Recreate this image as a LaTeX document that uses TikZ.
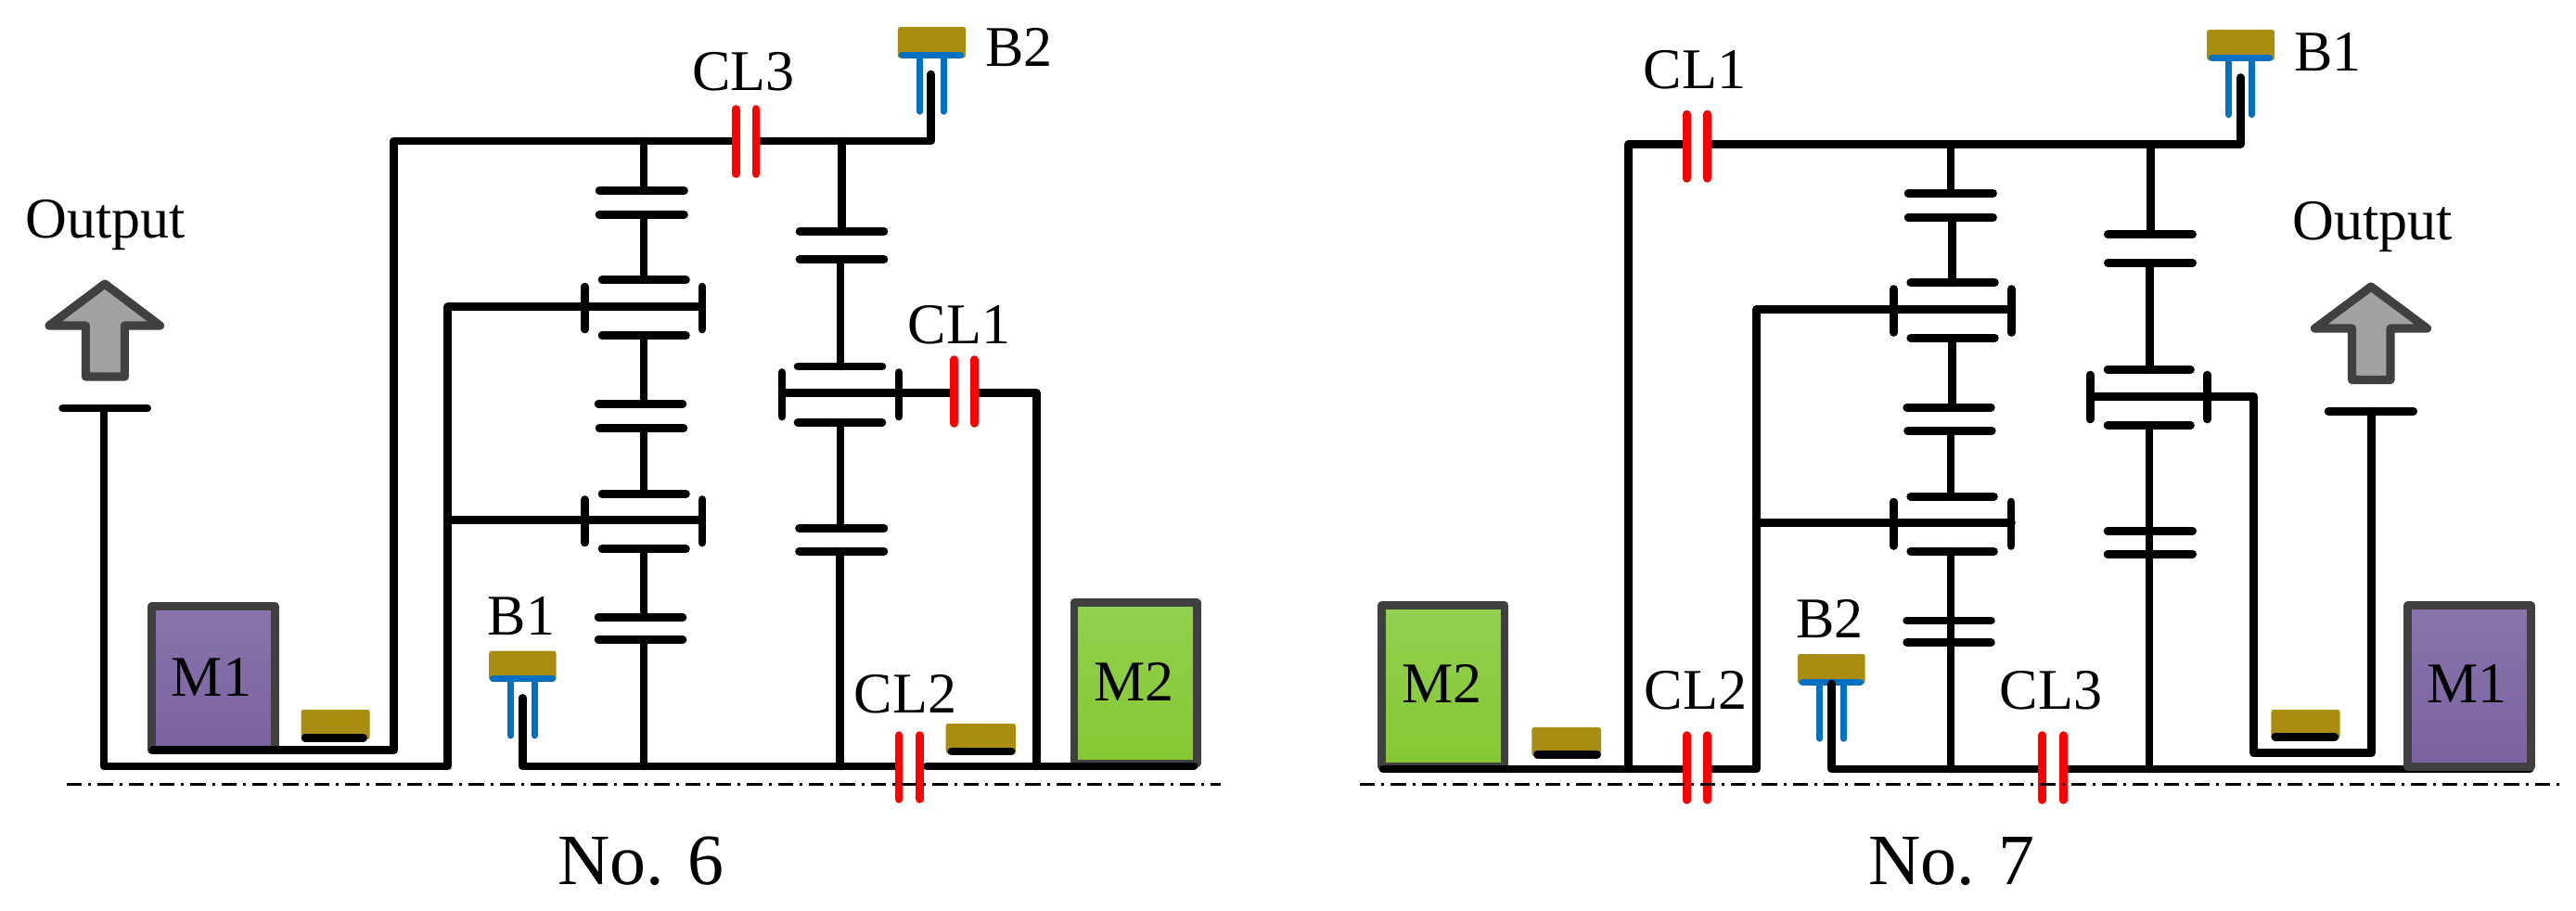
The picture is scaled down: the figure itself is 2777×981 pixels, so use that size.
\documentclass[tikz,border=0pt]{standalone}
\usepackage{fontspec}
\setmainfont{Liberation Serif}
\definecolor{brakebrown}{RGB}{169,141,16}
\definecolor{brakeblue}{RGB}{0,112,192}
\definecolor{boxgray}{RGB}{64,64,64}
\definecolor{purpletop}{RGB}{137,117,171}
\definecolor{purplebot}{RGB}{122,98,160}
\definecolor{greentop}{RGB}{146,208,80}
\definecolor{greenbot}{RGB}{133,200,50}
\tikzset{
  shaft/.style={line width=2.08pt,line cap=round,line join=round},
  clutch/.style={red,line width=2.05pt,line cap=round},
  leg/.style={brakeblue,line width=1.6pt,line cap=round},
  pad/.style={brakeblue,line width=1.7pt,line cap=round},
  block/.style={fill=brakebrown,rounded corners=0.6pt},
  motor/.style={draw=boxgray,line width=2.05pt,line join=round},
  motorone/.style={motor,top color=purpletop,bottom color=purplebot},
  motortwo/.style={motor,top color=greentop,bottom color=greenbot},
  outarrow/.style={draw=boxgray,fill=black!37,line width=2.2pt,line join=round},
  axis/.style={line width=0.75pt,dash pattern=on 3.9pt off 1.7pt on 0.7pt off 1.7pt},
  lbl/.style={anchor=base,inner sep=0pt,font=\fontsize{14.9}{16}\selectfont},
  title/.style={anchor=base,inner sep=0pt,font=\fontsize{18.7}{20}\selectfont}
}
\begin{document}
\begin{tikzpicture}[x=0.24pt,y=0.24pt,yscale=-1,xscale=1]
\useasboundingbox (0,0) rectangle (2777,981);

%%% No. 6
%Output Arrow
\draw [outarrow] (113,306) -- (53,351) -- (92.4,351) -- (92.4,406) -- (134.4,406) -- (134.4,351) -- (172.5,351) -- cycle ;
%Output Disc
\draw [shaft] (67.6,440) -- (158.7,440) ;
\draw [shaft] (112,440) -- (112,826) -- (482.6,826) -- (482.6,330.7) -- (630.4,330.7) ;
\draw [shaft] (482.6,560.3) -- (630.4,560.3) ;
%Top Shaft
\draw [shaft] (793,152) -- (424.6,152) -- (424.6,808.3) -- (165,808.3) ;
\draw [shaft] (815,152) -- (1003.6,152) -- (1003.6,80) ;
%First Gear Column
\draw [shaft] (694,152) -- (694,205.3) ;
\draw [shaft] (646,205.3) -- (737.5,205.3) ;
\draw [shaft] (646,231.3) -- (737.5,231.3) ;
\draw [shaft] (694,231.3) -- (694,301.7) ;
\draw [shaft] (649,301.7) -- (739.5,301.7) ;
\draw [shaft] (630.4,330.7) -- (757,330.7) ;
\draw [shaft] (630.4,309) -- (630.4,355) ;
\draw [shaft] (757,309) -- (757,355) ;
\draw [shaft] (649,361.7) -- (739.5,361.7) ;
\draw [shaft] (694,361.7) -- (694,435.3) ;
\draw [shaft] (645,435.3) -- (736,435.3) ;
\draw [shaft] (646,461.7) -- (737,461.7) ;
\draw [shaft] (694,461.7) -- (694,532.3) ;
\draw [shaft] (649,532.3) -- (739.5,532.3) ;
\draw [shaft] (630.4,560.3) -- (757,560.3) ;
\draw [shaft] (630.4,538.5) -- (630.4,585) ;
\draw [shaft] (757,538.5) -- (757,585) ;
\draw [shaft] (649,591.7) -- (739.5,591.7) ;
\draw [shaft] (694,591.7) -- (694,665.3) ;
\draw [shaft] (645,665.3) -- (736,665.3) ;
\draw [shaft] (645,689.3) -- (736,689.3) ;
\draw [shaft] (694,689.3) -- (694,826) ;
%Second Gear Column
\draw [shaft] (907.6,152) -- (907.6,249.3) ;
\draw [shaft] (862,249.3) -- (953,249.3) ;
\draw [shaft] (862,279.7) -- (953,279.7) ;
\draw [shaft] (906,279.7) -- (906,395) ;
\draw [shaft] (860,395) -- (951,395) ;
\draw [shaft] (843,423.7) -- (1028,423.7) ;
\draw [shaft] (1050,423.7) -- (1117.4,423.7) -- (1117.4,826) ;
\draw [shaft] (843,401.5) -- (843,449) ;
\draw [shaft] (969,401.5) -- (969,449) ;
\draw [shaft] (860,455.3) -- (951,455.3) ;
\draw [shaft] (906,455.3) -- (906,569.3) ;
\draw [shaft] (861.5,569.3) -- (953,569.3) ;
\draw [shaft] (861.5,594.3) -- (953,594.3) ;
\draw [shaft] (905.4,594.3) -- (905.4,826) ;
%Motors
\draw [motorone] (163.7,653.5) rectangle (296.4,809.2);
\draw [shaft] (165,808.3) -- (424.6,808.3) ;
\draw [motortwo] (1157.8,649.5) rectangle (1290.3,823);
%Bottom Shaft
\draw [shaft] (563.4,752.5) -- (563.4,826) -- (969,826) ;
\draw [shaft] (999,826) -- (1287,826) ;
%Brakes
\fill [block] (527.2,701.7) rectangle (599.6,733.5) ;
\draw [leg] (550.4,732) -- (550.4,793) ;
\draw [leg] (576.3,732) -- (576.3,793) ;
\draw [pad] (531.5,731.7) -- (595.5,731.7) ;
\draw [shaft] (563.4,752.5) -- (563.4,790) ;
\fill [block] (967.9,29) rectangle (1041,62.5) ;
\draw [leg] (991.5,60) -- (991.5,120.3) ;
\draw [leg] (1017.4,60) -- (1017.4,120.3) ;
\draw [pad] (972.5,59.3) -- (1035.5,59.3) ;
\fill [block] (324.6,765) rectangle (398.7,797) ;
\draw [shaft] (329,795.3) -- (391.7,795.3) ;
\fill [block] (1019.6,780) rectangle (1095,812) ;
\draw [shaft] (1025.7,810) -- (1090.3,810) ;
%Clutches
\draw [clutch] (793.3,117.5) -- (793.3,187.5) ;
\draw [clutch] (815.2,117.5) -- (815.2,187.5) ;
\draw [clutch] (1028.6,387.5) -- (1028.6,456.5) ;
\draw [clutch] (1050.4,387.5) -- (1050.4,456.5) ;
\draw [clutch] (969.2,792.5) -- (969.2,861.5) ;
\draw [clutch] (991.5,792.5) -- (991.5,861.5) ;
%Axis
\draw [axis] (72,845.7) -- (1316,845.7) ;

%%% No. 7
%Output Arrow
\draw [outarrow] (2556,309) -- (2495.5,354) -- (2535.5,354) -- (2535.5,409.5) -- (2577,409.5) -- (2577,354) -- (2616.5,354) -- cycle ;
%Output Disc
\draw [shaft] (2510,443.3) -- (2601.7,443.3) ;
\draw [shaft] (2556.5,443.3) -- (2556.5,811.7) -- (2429.7,811.7) -- (2429.7,427.3) -- (2253.3,427.3) ;
%Top Shaft
\draw [shaft] (1815,155.3) -- (1755.8,155.3) -- (1755.8,829) ;
\draw [shaft] (1845,155.3) -- (2415.4,155.3) -- (2415.4,83.5) ;
%Carrier Shaft
\draw [shaft] (1844,829) -- (1893.3,829) -- (1893.3,333.3) -- (2168.5,333.3) ;
\draw [shaft] (1893.3,563.3) -- (2168.5,563.3) ;
%First Gear Column
\draw [shaft] (2103,155.3) -- (2103,208.3) ;
\draw [shaft] (2057,208.3) -- (2148.6,208.3) ;
\draw [shaft] (2057,234.3) -- (2148.6,234.3) ;
\draw [shaft] (2104.7,234.3) -- (2104.7,304.7) ;
\draw [shaft] (2059.7,304.7) -- (2150.4,304.7) ;
\draw [shaft] (2041.5,311.5) -- (2041.5,358.5) ;
\draw [shaft] (2168.5,311.5) -- (2168.5,358.5) ;
\draw [shaft] (2059.7,364.3) -- (2150.4,364.3) ;
\draw [shaft] (2104.7,364.3) -- (2104.7,439.3) ;
\draw [shaft] (2055.6,439.3) -- (2146.4,439.3) ;
\draw [shaft] (2056.5,464.3) -- (2147.3,464.3) ;
\draw [shaft] (2103,464.3) -- (2103,535.3) ;
\draw [shaft] (2059.7,535.3) -- (2149.5,535.3) ;
\draw [shaft] (2041.5,541) -- (2041.5,588.5) ;
\draw [shaft] (2168,541) -- (2168,588.5) ;
\draw [shaft] (2059.7,594.3) -- (2149.5,594.3) ;
\draw [shaft] (2103,594.3) -- (2103,829) ;
\draw [shaft] (2055.6,669) -- (2146.4,669) ;
\draw [shaft] (2055.6,692.3) -- (2146.4,692.3) ;
%Second Gear Column
\draw [shaft] (2318.5,155.3) -- (2318.5,252.7) ;
\draw [shaft] (2272.3,252.7) -- (2363.7,252.7) ;
\draw [shaft] (2272.3,283.3) -- (2363.7,283.3) ;
\draw [shaft] (2317.6,283.3) -- (2317.6,398.3) ;
\draw [shaft] (2272,398.3) -- (2361.5,398.3) ;
\draw [shaft] (2253.3,404) -- (2253.3,452) ;
\draw [shaft] (2379.7,404) -- (2379.7,452) ;
\draw [shaft] (2272,458.3) -- (2361.5,458.3) ;
\draw [shaft] (2317,458.3) -- (2317,829) ;
\draw [shaft] (2272,572.3) -- (2363.7,572.3) ;
\draw [shaft] (2272,597.3) -- (2363.7,597.3) ;
%Bottom Shaft
\draw [shaft] (1974.5,737) -- (1974.5,829) -- (2197.5,829) ;
\draw [shaft] (2228.8,829) -- (2727,829) ;
%Motors
\draw [motortwo] (1489.5,652.5) rectangle (1622.1,826.4);
\draw [shaft] (1491,829) -- (1815,829) ;
\draw [motorone] (2595.7,652.5) rectangle (2728.3,826.6);
%Brakes
\fill [block] (1938,705) rectangle (2010.7,737) ;
\draw [leg] (1961.6,735) -- (1961.6,796.3) ;
\draw [leg] (1987.5,735) -- (1987.5,796.3) ;
\draw [pad] (1943,735.3) -- (2005.5,735.3) ;
\draw [shaft] (1974.5,737) -- (1974.5,790) ;
\fill [block] (2379.2,32) rectangle (2452,65) ;
\draw [leg] (2402.4,63) -- (2402.4,123.7) ;
\draw [leg] (2427.4,63) -- (2427.4,123.7) ;
\draw [pad] (2384.5,62.3) -- (2446.5,62.3) ;
\fill [block] (1651.3,784) rectangle (1725.9,815) ;
\draw [shaft] (1657.4,813.3) -- (1721.6,813.3) ;
\fill [block] (2448.4,765) rectangle (2522.5,796) ;
\draw [shaft] (2452.7,794.3) -- (2517,794.3) ;
%Clutches
\draw [clutch] (1818.3,123) -- (1818.3,192.5) ;
\draw [clutch] (1840.6,123) -- (1840.6,192.5) ;
\draw [clutch] (1818.3,792.5) -- (1818.3,862.5) ;
\draw [clutch] (1840.6,792.5) -- (1840.6,862.5) ;
\draw [clutch] (2201.5,792.5) -- (2201.5,862.5) ;
\draw [clutch] (2224.5,792.5) -- (2224.5,862.5) ;
%Axis
\draw [axis] (1466,845.3) -- (2762,845.3) ;

% Text Node
\draw (114,256) node (outA) [lbl] {Output};
\draw (801.6,97.3) node (clThreeA) [lbl] {CL3};
\draw (1098.8,71.7) node (brTwoA) [lbl] {B2};
\draw (1034,370) node (clOneA) [lbl] {CL1};
\draw (976,768.3) node (clTwoA) [lbl] {CL2};
\draw (228,750) node (moOneA) [lbl] {M1};
\draw (1222.9,755) node (moTwoA) [lbl] {M2};
\draw (562,684) node (brOneA) [lbl] {B1};
\draw (691,953.3) node (capA) [title] {No. 6};
% Text Node
\draw (2557.4,258.3) node (outB) [lbl] {Output};
\draw (1827,95) node (clOneB) [lbl] {CL1};
\draw (2509.4,76) node (brOneB) [lbl] {B1};
\draw (1828,764) node (clTwoB) [lbl] {CL2};
\draw (2211,764) node (clThreeB) [lbl] {CL3};
\draw (1972.8,687.3) node (brTwoB) [lbl] {B2};
\draw (1554.5,757.7) node (moTwoB) [lbl] {M2};
\draw (2659.8,757.7) node (moOneB) [lbl] {M1};
\draw (2104,953.3) node (capB) [title] {No. 7};

\end{tikzpicture}
\end{document}
